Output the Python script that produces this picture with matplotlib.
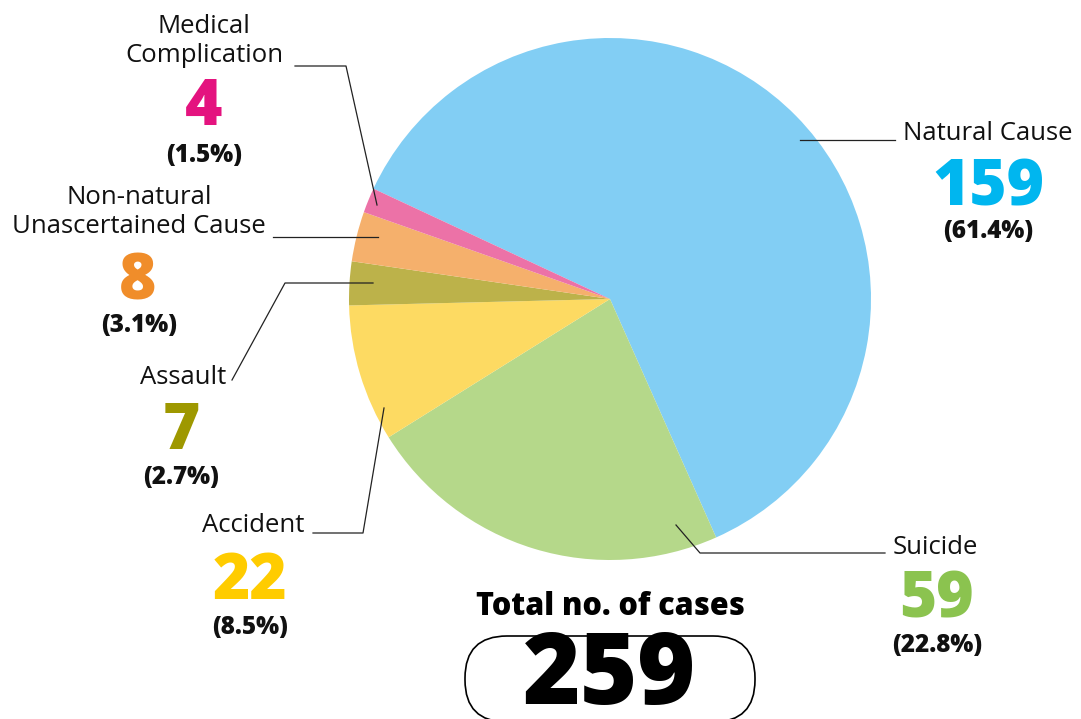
import matplotlib.pyplot as plt
from matplotlib.patches import FancyBboxPatch

W, H = 1081, 719

causes = ["Natural Cause", "Suicide", "Accident", "Assault",
          "Non-natural\nUnascertained Cause", "Medical\nComplication"]
counts = [159, 59, 22, 7, 8, 4]
percents = ["(61.4%)", "(22.8%)", "(8.5%)", "(2.7%)", "(3.1%)", "(1.5%)"]
total = 259

wedge_colors = ["#82CEF4", "#B5D88A", "#FDDA62", "#BCB24A", "#F5B06C", "#EC72A7"]
number_colors = ["#00B6EF", "#8BC34F", "#FFCC00", "#9E9800", "#F08D2A", "#E4137F"]

LABEL_FONT = "Open Sans"


def Y(py):
    # image pixel row -> data y
    return H - py


fig = plt.figure(figsize=(W / 100, H / 100), dpi=100)
ax = fig.add_axes([0, 0, 1, 1])
ax.set_xlim(0, W)
ax.set_ylim(0, H)
ax.set_aspect("equal")
ax.axis("off")

ax.pie(counts, colors=wedge_colors, startangle=155, counterclock=False,
       center=(610, Y(299)), radius=261,
       wedgeprops=dict(linewidth=0))
ax.set_xlim(0, W)
ax.set_ylim(0, H)

# label blocks: (name anchor, name align, number pos, pct pos)
layout = [
    ((903, 133), "left", (988, 188), (988, 231)),
    ((893, 547), "left", (937, 600), (937, 645)),
    ((304, 525), "right", (250, 582), (250, 628)),
    ((226, 378), "right", (181, 432), (181, 477)),
    ((139, 212), "center", (138, 283), (139, 326)),
    ((204, 41), "center", (204, 108), (204, 155)),
]

for name, n, pct, col, (npos, ha, numpos, ppos) in zip(
        causes, counts, percents, number_colors, layout):
    ax.text(npos[0], Y(npos[1]), name, ha=ha, va="center", fontsize=18.5,
            family=LABEL_FONT, color="#111111", linespacing=1.25)
    ax.text(numpos[0], Y(numpos[1]), str(n), ha="center", va="center",
            fontsize=46, fontweight="heavy", family=LABEL_FONT, color=col)
    ax.text(ppos[0], Y(ppos[1]), pct, ha="center", va="center",
            fontsize=17.5, fontweight="heavy", family=LABEL_FONT, color="#111111")

# leader lines (pixel paths)
leaders = [
    [(800, 140), (895, 140)],
    [(676, 525), (700, 553), (885, 553)],
    [(384, 408), (363, 533), (313, 533)],
    [(373, 283), (285, 283), (232, 380)],
    [(378, 237), (273, 237)],
    [(377, 205), (346, 66), (295, 66)],
]
for path in leaders:
    xs = [p[0] for p in path]
    ys = [Y(p[1]) for p in path]
    ax.plot(xs, ys, color="#222222", lw=0.9)

# total box (stadium shape, bottom edge runs to the image border)
ax.text(610, Y(607), "Total no. of cases", ha="center", va="center",
        fontsize=22, fontweight="heavy", family=LABEL_FONT, color="black")
box = FancyBboxPatch((465, Y(722)), 290, 86,
                     boxstyle="round,pad=0,rounding_size=42",
                     fc="white", ec="black", lw=1.2)
ax.add_patch(box)
ax.text(610, Y(678), str(total), ha="center", va="center",
        fontsize=71, fontweight="heavy", family=LABEL_FONT, color="black")

fig.savefig("out.png", dpi=100)
